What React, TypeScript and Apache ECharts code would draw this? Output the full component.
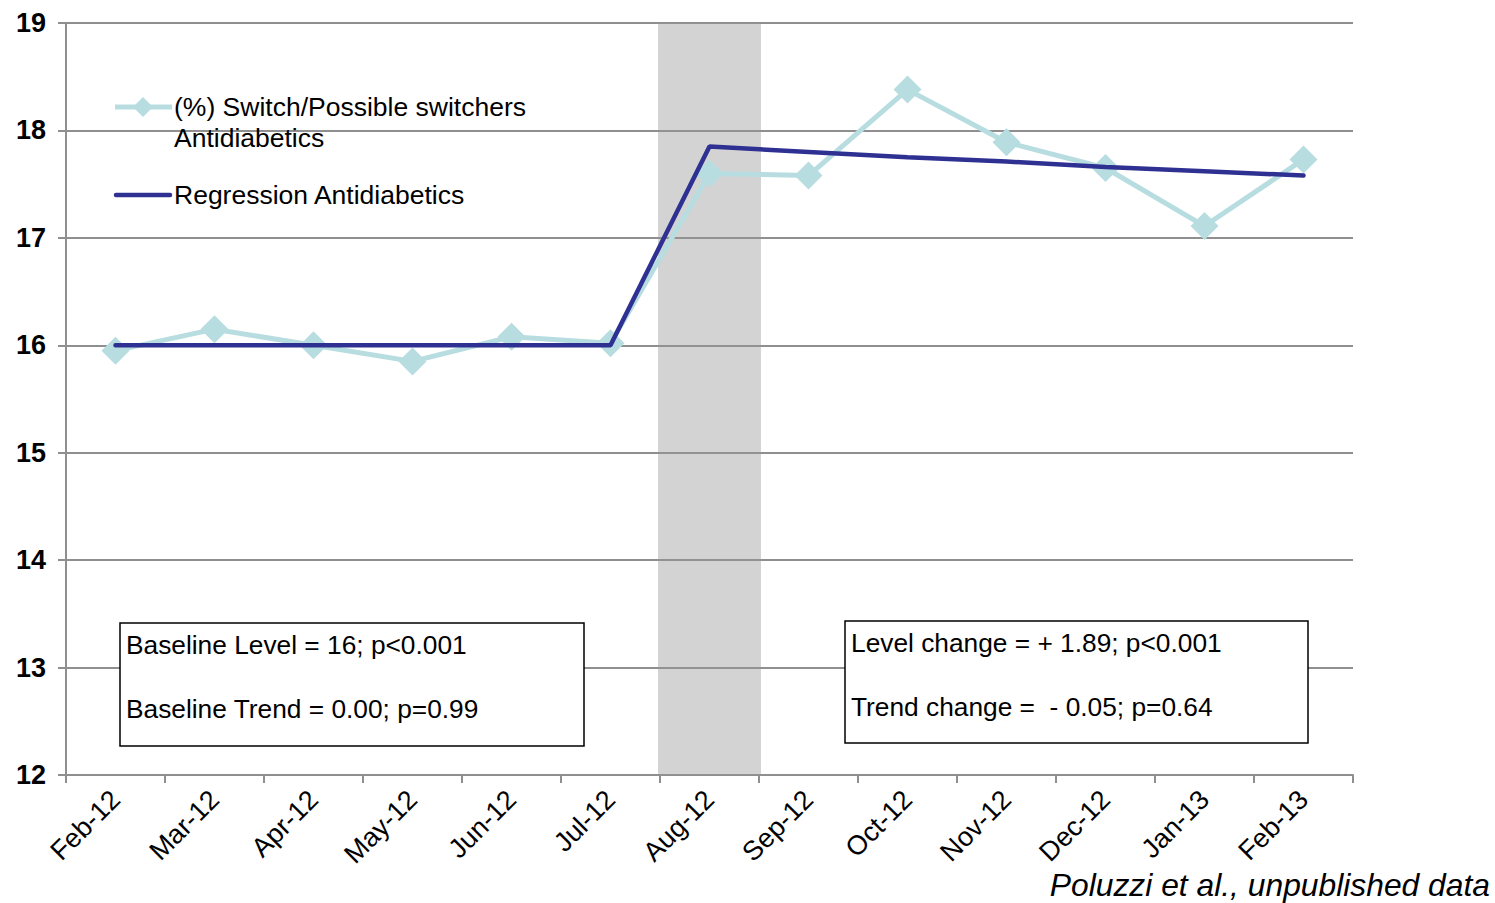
import React, { useEffect, useRef } from "react";
import * as echarts from "echarts";

const categories = [
  "Feb-12", "Mar-12", "Apr-12", "May-12", "Jun-12", "Jul-12", "Aug-12",
  "Sep-12", "Oct-12", "Nov-12", "Dec-12", "Jan-13", "Feb-13",
];
const switchValues = [15.95, 16.15, 16.0, 15.85, 16.08, 16.02, 17.6, 17.58, 18.38, 17.89, 17.65, 17.11, 17.73];
const regressionValues = [16.0, 16.0, 16.0, 16.0, 16.0, 16.0, 17.85, 17.8, 17.75, 17.71, 17.66, 17.62, 17.58];
const bandValues = [null, null, null, null, null, null, 19, null, null, null, null, null, null];
const yTicks = { min: 12, max: 19, interval: 1 };

const seriesNames = ["(%) Switch/Possible switchers Antidiabetics", "Regression Antidiabetics"];
const boxLeft = ["Baseline Level = 16; p<0.001", "Baseline Trend = 0.00; p=0.99"];
const boxRight = ["Level change = + 1.89; p<0.001", "Trend change =  - 0.05; p=0.64"];
const footer = "Poluzzi et al., unpublished data";

const FONT = '"Liberation Sans", Arial, sans-serif';
const LIGHT = "#b7dde1";
const DARK = "#2e3192";
const GRID = "#8f8f8f";

export default function App() {
  const ref = useRef<HTMLDivElement>(null);
  useEffect(() => {
    if (!ref.current) return;
    const chart = echarts.init(ref.current, null, { renderer: "svg" });
    const txt = (text: string, x: number, y: number, size: number, extra: any = {}) => ({
      type: "text",
      z: 100,
      style: {
        text, x, y, fill: "#000",
        font: `${extra.style || "normal"} ${extra.weight || "normal"} ${size}px ${FONT}`,
        textAlign: extra.align || "left",
        textVerticalAlign: "middle",
        align: extra.align || "left",
        verticalAlign: "middle",
      },
    });
    chart.setOption({
      animation: false,
      backgroundColor: "#fff",
      grid: { left: 66, right: 142, top: 23, bottom: 128, containLabel: false },
      xAxis: {
        type: "category",
        data: categories,
        boundaryGap: true,
        axisLine: { lineStyle: { color: GRID, width: 2 } },
        axisTick: { show: true, length: 8, lineStyle: { color: GRID, width: 2 } },
        axisLabel: {
          rotate: 45, interval: 0, margin: 20, fontSize: 27, color: "#000", fontFamily: FONT,
        },
        splitLine: { show: false },
      },
      yAxis: {
        type: "value",
        min: yTicks.min,
        max: yTicks.max,
        interval: yTicks.interval,
        axisLine: { show: true, lineStyle: { color: GRID, width: 2 } },
        axisTick: { show: true, length: 8, lineStyle: { color: GRID, width: 2 } },
        axisLabel: { margin: 20, fontSize: 27, fontWeight: "bold", color: "#000", fontFamily: FONT },
        splitLine: { show: true, lineStyle: { color: GRID, width: 2 } },
      },
      series: [
        {
          type: "bar",
          name: "band",
          data: bandValues,
          barWidth: "104%",
          itemStyle: { color: "rgba(150,150,150,0.42)" },
          silent: true,
          z: 1,
        },
        {
          type: "line",
          name: seriesNames[0],
          data: switchValues,
          symbol: "diamond",
          symbolSize: 28,
          lineStyle: { color: LIGHT, width: 5 },
          itemStyle: { color: LIGHT },
          z: 3,
        },
        {
          type: "line",
          name: seriesNames[1],
          data: regressionValues,
          symbol: "none",
          lineStyle: { color: DARK, width: 4.5, cap: "round" },
          itemStyle: { color: DARK },
          z: 4,
        },
      ],
      graphic: [
        { type: "line", z: 100, shape: { x1: 115, y1: 107, x2: 172, y2: 107 }, style: { stroke: LIGHT, lineWidth: 5 } },
        { type: "polygon", z: 101, shape: { points: [[143, 97], [153, 107], [143, 117], [133, 107]] }, style: { fill: LIGHT } },
        txt("(%) Switch/Possible switchers", 174, 107, 26.5),
        txt("Antidiabetics", 174, 138, 26.5),
        { type: "line", z: 100, shape: { x1: 116, y1: 195, x2: 170, y2: 195 }, style: { stroke: DARK, lineWidth: 4.5, lineCap: "round" } },
        txt("Regression Antidiabetics", 174, 195, 26.5),
        { type: "rect", z: 99, shape: { x: 120, y: 623, width: 464, height: 123 }, style: { fill: "#fff", stroke: "#000", lineWidth: 1.5 } },
        txt(boxLeft[0], 126, 645, 26.3),
        txt(boxLeft[1], 126, 709, 26.3),
        { type: "rect", z: 99, shape: { x: 845, y: 621, width: 463, height: 122 }, style: { fill: "#fff", stroke: "#000", lineWidth: 1.5 } },
        txt(boxRight[0], 851, 643, 26.3),
        txt(boxRight[1], 851, 707, 26.3),
        txt(footer, 1490, 885, 31.8, { style: "italic", align: "right" }),
      ],
    });
    return () => chart.dispose();
  }, []);
  return (
    <div
      ref={ref}
      style={{ position: "absolute", left: 0, top: 0, width: 1495, height: 903 }}
    />
  );
}
